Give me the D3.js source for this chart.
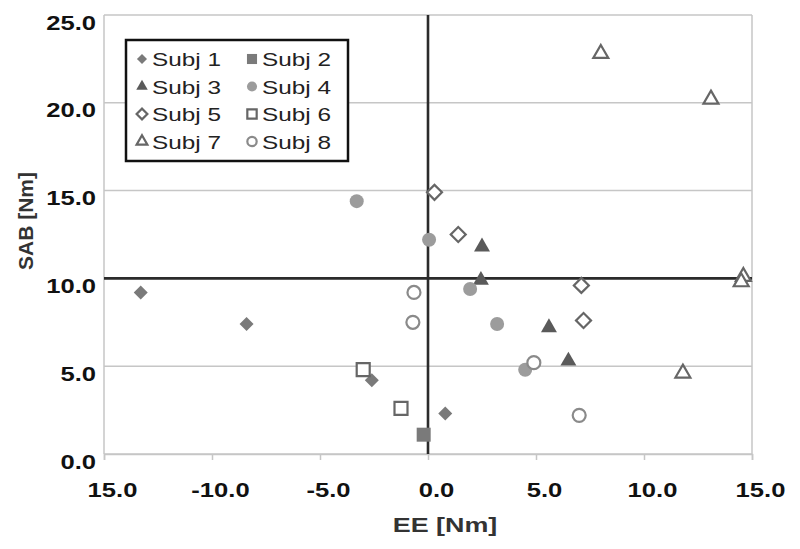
<!DOCTYPE html>
<html>
<head>
<meta charset="utf-8">
<script src="https://cdn.jsdelivr.net/npm/d3@7"></script>
<style>
  body { margin: 0; background: #fff; }
  text { font-family: "Liberation Sans", Arial, sans-serif; }
</style>
</head>
<body>
<script>
// EE vs SAB torques per subject

var w = 800
var h = 549
var margins = {left: 104, right: 48, upper: 15, lower: 95}

// legend names
var subjects = ["Subj 1", "Subj 2", "Subj 3", "Subj 4", "Subj 5", "Subj 6", "Subj 7", "Subj 8"]

// [EE, SAB] pairs
var subj1 = [[-13.3, 9.2], [-8.4, 7.4], [-2.6, 4.2], [0.8, 2.3]]
var subj2 = [[-0.2, 1.1]]
var subj3 = [[2.5, 11.8], [2.45, 9.9], [5.6, 7.2], [6.5, 5.3]]
var subj4 = [[-3.3, 14.4], [0.05, 12.2], [1.95, 9.4], [3.2, 7.4], [4.5, 4.8]]
var subj5 = [[0.3, 14.9], [1.4, 12.5], [7.1, 9.6], [7.2, 7.6]]
var subj6 = [[-3.0, 4.8], [-1.25, 2.6]]
var subj7 = [[8.0, 22.8], [13.1, 20.2], [14.6, 10.1], [14.5, 9.8], [11.8, 4.6]]
var subj8 = [[-0.65, 9.2], [-0.7, 7.5], [4.9, 5.2], [7.0, 2.2]]

// axis ticks
var xTicks = [-15, -10, -5, 0, 5, 10, 15]
var xTickLabels = ["15.0", "-10.0", "-5.0", "0.0", "5.0", "10.0", "15.0"]
var yTicks = [0, 5, 10, 15, 20, 25]
var yTickLabels = ["0.0", "5.0", "10.0", "15.0", "20.0", "25.0"]

var series = [subj1, subj2, subj3, subj4, subj5, subj6, subj7, subj8]

// marker look for each subject
var looks = [
  {shape: "diamond", fill: "#7a7a7a", stroke: "none", size: 14},
  {shape: "square", fill: "#7a7a7a", stroke: "none", size: 14},
  {shape: "triangle", fill: "#5a5a5a", stroke: "none", size: 16},
  {shape: "circle", fill: "#9c9c9c", stroke: "none", size: 14},
  {shape: "diamond", fill: "#fff", stroke: "#666", size: 15},
  {shape: "square", fill: "#fff", stroke: "#666", size: 13},
  {shape: "triangle", fill: "#fff", stroke: "#666", size: 15},
  {shape: "circle", fill: "#fff", stroke: "#8a8a8a", size: 13}
]

// text in the picture is stretched sideways
var stretch = 1.28

var svg = d3.select("body")
            .append("svg")
            .attr("width", w)
            .attr("height", h)

var xScale = d3.scaleLinear()
               .domain([-15, 15])
               .range([margins.left, w - margins.right])
var yScale = d3.scaleLinear()
               .domain([0, 25])
               .range([h - margins.lower, margins.upper])

function widen(sel) {
  sel.each(function() {
    var len = this.getComputedTextLength()
    d3.select(this).attr("textLength", len * stretch).attr("lengthAdjust", "spacingAndGlyphs")
  })
}

function markerPath(look, scale) {
  var s = look.size * (scale || 1)
  if (look.shape === "circle") return d3.symbol().type(d3.symbolCircle).size(Math.PI * s * s / 4)()
  if (look.shape === "square") return d3.symbol().type(d3.symbolSquare).size(s * s)()
  if (look.shape === "diamond") return d3.symbol().type(d3.symbolSquare).size(s * s / 2)()
  return d3.symbol().type(d3.symbolTriangle).size(s * s * 0.43)()
}

function drawMarker(g, look, x, y, scale) {
  var rot = look.shape === "diamond" ? " rotate(45)" : ""
  g.append("path")
   .attr("d", markerPath(look, scale))
   .attr("transform", "translate(" + x + "," + y + ")" + rot)
   .attr("fill", look.fill)
   .attr("stroke", look.stroke)
   .attr("stroke-width", look.stroke === "none" ? 0 : 2.2)
}

// gridlines
svg.append("g")
   .selectAll("line")
   .data(yTicks)
   .enter()
   .append("line")
   .attr("x1", xScale(-15))
   .attr("x2", xScale(15))
   .attr("y1", function(d) { return yScale(d) })
   .attr("y2", function(d) { return yScale(d) })
   .attr("stroke", "#c6c6c6")
   .attr("stroke-width", 1.5)

// frame sides
svg.append("line")
   .attr("x1", xScale(-15)).attr("x2", xScale(-15))
   .attr("y1", yScale(0)).attr("y2", yScale(25))
   .attr("stroke", "#c6c6c6").attr("stroke-width", 1.5)
svg.append("line")
   .attr("x1", xScale(15)).attr("x2", xScale(15))
   .attr("y1", yScale(0)).attr("y2", yScale(25))
   .attr("stroke", "#c6c6c6").attr("stroke-width", 1.5)

// x axis with small ticks
var xAxis = svg.append("g")
   .attr("transform", "translate(0," + yScale(0) + ")")
   .call(d3.axisBottom(xScale)
           .tickValues(xTicks)
           .tickSize(6)
           .tickFormat(function(d, i) { return xTickLabels[i] }))
xAxis.select(".domain").attr("stroke", "#c6c6c6").attr("stroke-width", 1.5)
xAxis.selectAll(".tick line").attr("stroke", "#c6c6c6").attr("stroke-width", 1.5)
xAxis.selectAll(".tick text")
     .attr("y", 43)
     .attr("dy", 0)
     .attr("dx", 8)
     .attr("fill", "#111")
     .style("font-size", "20px")
     .style("font-weight", "bold")
     .call(widen)

// y axis
var yAxis = svg.append("g")
   .attr("transform", "translate(" + margins.left + ",0)")
   .call(d3.axisLeft(yScale)
           .tickValues(yTicks)
           .tickSize(0)
           .tickPadding(8)
           .tickFormat(function(d, i) { return yTickLabels[i] }))
yAxis.select(".domain").remove()
yAxis.selectAll(".tick text")
     .attr("dy", 14)
     .attr("fill", "#111")
     .style("font-size", "20px")
     .style("font-weight", "bold")
     .call(widen)

// reference lines at EE = 0 and SAB = 10
svg.append("line")
   .attr("x1", xScale(-15)).attr("x2", xScale(15))
   .attr("y1", yScale(10)).attr("y2", yScale(10))
   .attr("stroke", "#2b2b2b").attr("stroke-width", 2.6)
svg.append("line")
   .attr("x1", xScale(0)).attr("x2", xScale(0))
   .attr("y1", yScale(0)).attr("y2", yScale(25))
   .attr("stroke", "#2b2b2b").attr("stroke-width", 2.6)

// points
var pts = svg.append("g")
series.forEach(function(set, i) {
  set.forEach(function(p) {
    drawMarker(pts, looks[i], xScale(p[0]), yScale(p[1]))
  })
})

// axis titles
svg.append("text")
   .attr("x", 445)
   .attr("y", 532)
   .style("text-anchor", "middle")
   .style("font-size", "21px")
   .style("font-weight", "bold")
   .attr("fill", "#333")
   .text("EE [Nm]")
   .call(widen)

svg.append("text")
   .attr("transform", "translate(33,221) rotate(-90)")
   .style("text-anchor", "middle")
   .style("font-size", "21px")
   .style("font-weight", "bold")
   .attr("fill", "#333")
   .text("SAB [Nm]")

// legend
var legend = svg.append("g")
legend.append("rect")
      .attr("x", 126).attr("y", 40)
      .attr("width", 222).attr("height", 121)
      .attr("fill", "#fff")
      .attr("stroke", "#111")
      .attr("stroke-width", 2.5)

subjects.forEach(function(name, i) {
  var col = i % 2
  var row = Math.floor(i / 2)
  var mx = 142 + col * 110
  var my = 59 + row * 27.5
  drawMarker(legend, looks[i], mx, my, 0.72)
  legend.append("text")
        .attr("x", mx + 10)
        .attr("y", my + 7)
        .style("font-size", "19px")
        .attr("fill", "#222")
        .text(name)
        .call(widen)
})
</script>
</body>
</html>
